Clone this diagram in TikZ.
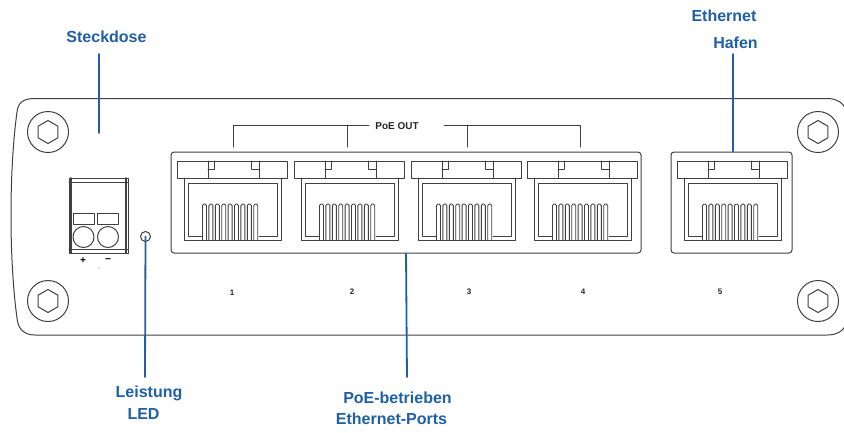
\documentclass[tikz,border=0pt]{standalone}
\usepackage{fontspec}
\setmainfont{Liberation Sans}
\definecolor{leaderblue}{HTML}{1F5FA6}
\definecolor{linegray}{HTML}{404040}
\tikzset{
  part/.style={draw=linegray,line width=1pt},
  leader/.style={draw=leaderblue,line width=1.8pt},
  callout/.style={text=leaderblue,font=\bfseries\fontsize{16}{18}\selectfont,inner sep=0pt},
  portno/.style={text=black!85,font=\bfseries\fontsize{8}{10}\selectfont,inner sep=0pt},
  housing/.style={part,rounded corners=3pt,minimum height=101pt,inner sep=0pt},
}
\begin{document}
\begin{tikzpicture}[line cap=round,line join=round,x=1pt,y=-1pt]
\useasboundingbox (0,0) rectangle (844,432);
% panel outline
\draw[part] (35,98.5) -- (827,98.5) .. controls (838,98.5) and (844,104) .. (846,110);
\draw[part] (35,98.5) .. controls (24,98.5) and (18,102) .. (17,112) .. controls (9,170) and (9,260) .. (17,318) .. controls (18,329) and (24,335) .. (35,335) -- (827,335) .. controls (838,335) and (844,330) .. (846,324);
% screws
\foreach \x/\y in {48/132,48/301,818/132,818/301}
{
\draw[part,shift={(\x,\y)}] (0,0) circle (20.5);
\draw[part,shift={(\x,\y)}] (90:11.5) -- (30:11.5) -- (-30:11.5) -- (-90:11.5) -- (-150:11.5) -- (150:11.5) -- cycle;
}
% terminal block
\draw[part] (69,178) rectangle (128,253);
\draw[part,line width=1.6pt] (71,178) -- (71,253);
\draw[part,line width=1.6pt] (126,178) -- (126,253);
\draw[part] (69,182) -- (128,182);
\draw[part] (69,249) -- (128,249);
\foreach \x in {73,97}
\draw[part] (\x,213) rectangle +(21,11.5);
\foreach \x in {83.5,108}
\draw[part] (\x,237) circle (10.5);
\node[inner sep=0pt,font=\bfseries\fontsize{10}{12}\selectfont] (plus) at (83,261) {+};
\node[inner sep=0pt,font=\bfseries\fontsize{10}{12}\selectfont] (minus) at (108,261) {−};
\fill[black!50] (99,268) circle (0.6);
\node[part,circle,minimum size=10pt,inner sep=0pt] (led) at (145.5,236.5) {};
% port housings
\node[housing,minimum width=470pt] (poeports) at (406,202.5) {};
\node[housing,minimum width=121pt] (uplink) at (731.5,202.5) {};
% sockets
\foreach \x in {177,294,411,527,677}
{
\begin{scope}[shift={(\x,0)}]
\draw[part] (0,161) rectangle (110,178);
\draw[part] (31,161) -- (31,178);
\draw[part] (31,169) -- (37,169) -- (37,161);
\draw[part] (82,161) -- (82,178);
\draw[part] (82,169) -- (74,169) -- (74,161);
\draw[part] (7,178) -- (7,240) -- (104,240) -- (104,178);
\draw[part] (25,236) -- (11,236) -- (11,183) -- (100,183) -- (100,236) -- (82,236);
\foreach \p in {0,...,8}
\draw[part,line width=0.9pt,rounded corners=1.5pt] ({25.5+6.4*\p},240) -- ({25.5+6.4*\p},204) -- ({29.5+6.4*\p},204) -- ({29.5+6.4*\p},240);
\end{scope}
}
% PoE bracket
\node[inner sep=0pt,text=black!85,font=\bfseries\fontsize{10}{12}\selectfont] (poeout) at (397,126) {PoE OUT};
\coordinate (bracketLeft) at (369,125);
\coordinate (bracketRight) at (444,125);
\draw[part] (bracketLeft) -- (233,125) -- (233,147);
\draw[part] (bracketRight) -- (580,125) -- (580,147);
\draw[part] (347,125) -- (347,147);
\draw[part] (467,125) -- (467,147);
% port numbers
\node[portno] (no1) at (232,293) {1};
\node[portno] (no2) at (352,292) {2};
\node[portno] (no3) at (469,292) {3};
\node[portno] (no4) at (583,292) {4};
\node[portno] (no5) at (720,292) {5};
% callouts
\node[callout] (steckdose) at (106.5,37) {Steckdose};
\node[callout] (ethernet) at (724,16) {Ethernet};
\node[callout] (hafen) at (735.5,43) {Hafen};
\node[callout] (leistung) at (149,393) {Leistung};
\node[callout] (ledtext) at (143.5,414) {LED};
\node[callout] (poetext) at (397.5,398) {PoE-betrieben};
\node[callout] (porttext) at (391.5,419) {Ethernet-Ports};
\coordinate (steckdoseTop) at (99,54);
\coordinate (steckdoseEnd) at (99,133);
\coordinate (hafenTop) at (733,54);
\coordinate (ledEnd) at (145,377);
\coordinate (poeEnd) at (407,377);
\draw[leader] (steckdoseTop) -- (steckdoseEnd);
\draw[leader] (led.center) -- (ledEnd);
\draw[leader] (poeports.south) -- (poeEnd);
\draw[leader] (hafenTop) -- (hafenTop |- uplink.north);
\end{tikzpicture}
\end{document}
